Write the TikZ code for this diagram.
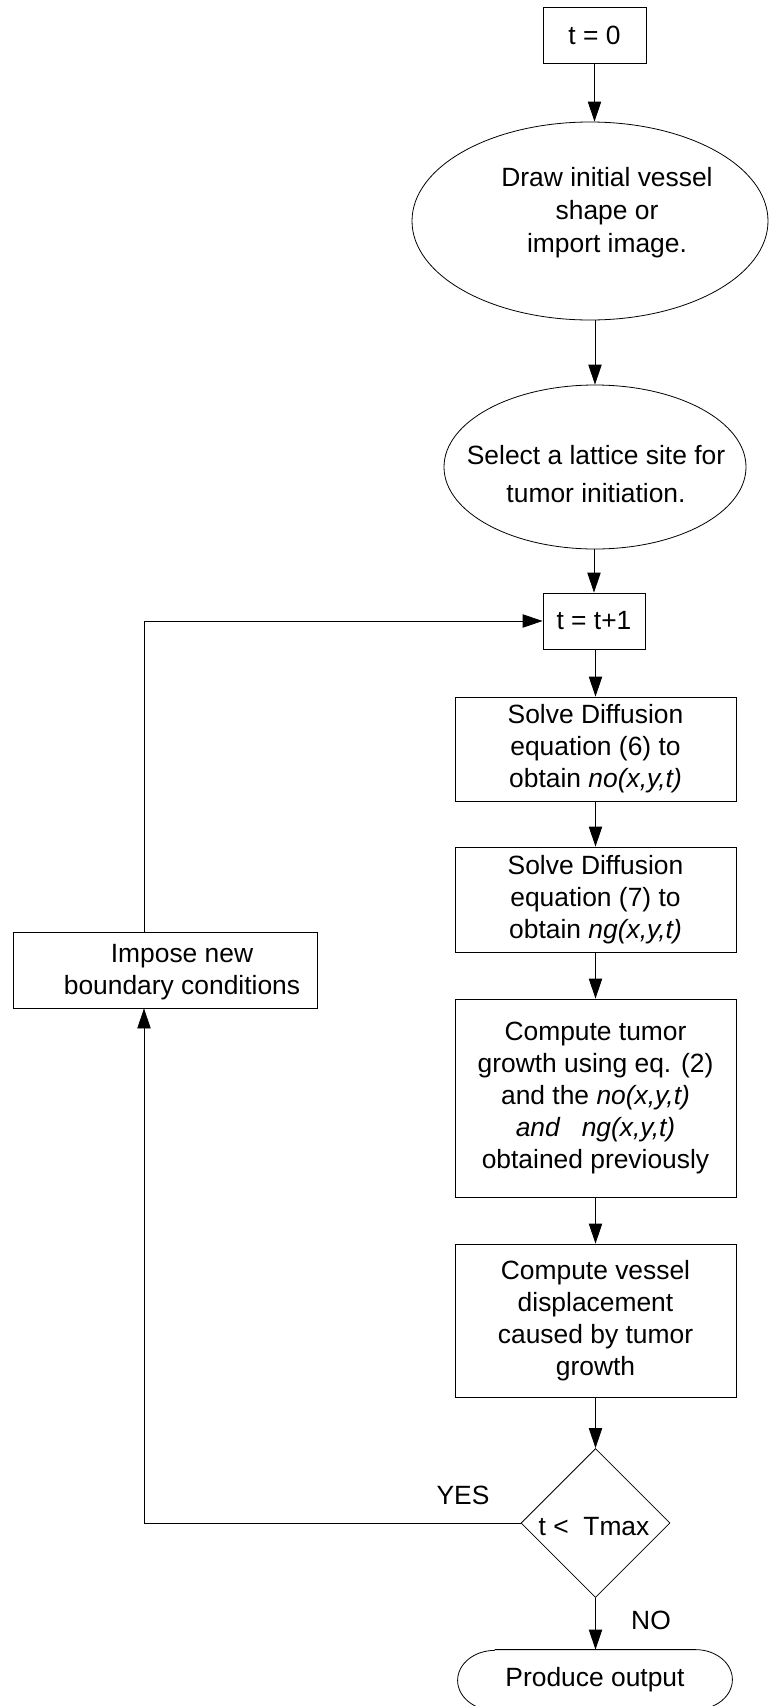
\documentclass[tikz,border=0pt]{standalone}
\usepackage{fontspec}
\setmainfont{Liberation Sans}
\usetikzlibrary{shapes.geometric,arrows.meta}

\tikzset{
  flowbox/.style={draw,rectangle,inner sep=0pt,align=center,line width=0.6pt},
  flowellipse/.style={draw,ellipse,inner sep=0pt,align=center,line width=0.6pt},
  flowtext/.style={inner sep=0pt,align=center}
}

\begin{document}
\begin{tikzpicture}[x=0.75pt,y=-0.75pt,line width=0.6pt,>={Triangle[length=15pt,width=10pt]},
  every node/.style={font=\fontsize{19.8}{24}\selectfont}]

\useasboundingbox (0,0) rectangle (769,1706);
\clip (0,0) rectangle (769,1706);

\node[flowbox,minimum width=77.25pt,minimum height=42pt] (t0) at (594.5,35) {t = 0};
\node[flowellipse,minimum width=267pt,minimum height=148.5pt] (vessel) at (590,221) {};
\node[flowtext,font=\fontsize{19.8}{24.75}\selectfont] (vesseltext) at (607,213) {Draw initial vessel\\ shape or\\ import image.};
\node[flowellipse,minimum width=226.5pt,minimum height=123pt] (site) at (595,467) {};
\node[flowtext,font=\fontsize{19.8}{28.5}\selectfont] (sitetext) at (596,474) {Select a lattice site for\\ tumor initiation.};
\node[flowbox,minimum width=76.5pt,minimum height=42pt] (tinc) at (594,621) {t = t+1};
\node[flowbox,minimum width=210.75pt,minimum height=78pt] (solveno) at (595.5,749) {Solve Diffusion\\ equation (6) to\\ obtain \textit{no(x,y,t)}};
\node[flowbox,minimum width=210.75pt,minimum height=78.75pt] (solveng) at (595.5,899.5) {Solve Diffusion\\ equation (7) to\\ obtain \textit{ng(x,y,t)}};
\node[flowbox,minimum width=210.75pt,minimum height=148.5pt] (growth) at (595.5,1098) {Compute tumor\\ growth using eq. (2)\\ and the \textit{no(x,y,t)}\\ \textit{and \ \ ng(x,y,t)}\\ obtained previously};
\node[flowbox,minimum width=210.75pt,minimum height=114.75pt] (displace) at (595.5,1320.5) {Compute vessel\\ displacement\\ caused by tumor\\ growth};
\node[draw,diamond,inner sep=0pt,minimum width=111.75pt,minimum height=111.75pt] (check) at (595.5,1523) {};
\node[flowtext] (checktext) at (594,1527) {t < \ Tmax};
\node[flowtext,minimum width=205.5pt,minimum height=45pt] (out) at (595,1680) {Produce output};
\node[flowbox,minimum width=228pt,minimum height=57pt] (impose) at (165,970) {};
\node[flowtext] (imposetext) at (182,972) {Impose new\\ boundary conditions};
\coordinate (loop) at (144,1523);

% terminator outline
\draw ([xshift=27.75pt]out.north west) -- ([xshift=-27.75pt]out.north east)
  arc[start angle=90,end angle=-90,x radius=27.75pt,y radius=22.5pt]
  -- ([xshift=27.75pt]out.south west)
  arc[start angle=270,end angle=90,x radius=27.75pt,y radius=22.5pt];

% main chain
\draw[->] (t0.south) -- (t0.south |- vessel.north);
\draw[->] (vessel.south -| site.north) -- (site.north);
\draw[->] (site.south -| tinc.north) -- (tinc.north);
\draw[->] (tinc.south -| solveno.north) -- (solveno.north);
\draw[->] (solveno.south) -- (solveng.north);
\draw[->] (solveng.south) -- (growth.north);
\draw[->] (growth.south) -- (displace.north);
\draw[->] (displace.south) -- (check.north);
\draw[->] (check.south) -- (check.south |- out.north);

% loop back
\draw[->] (check.west) -- (loop) -- (loop |- impose.south);
\draw[->] (loop |- impose.north) -- (loop |- tinc.west) -- (tinc.west);

\node (yes) at (463,1495) {YES};
\node (no) at (651,1620) {NO};

\end{tikzpicture}
\end{document}
